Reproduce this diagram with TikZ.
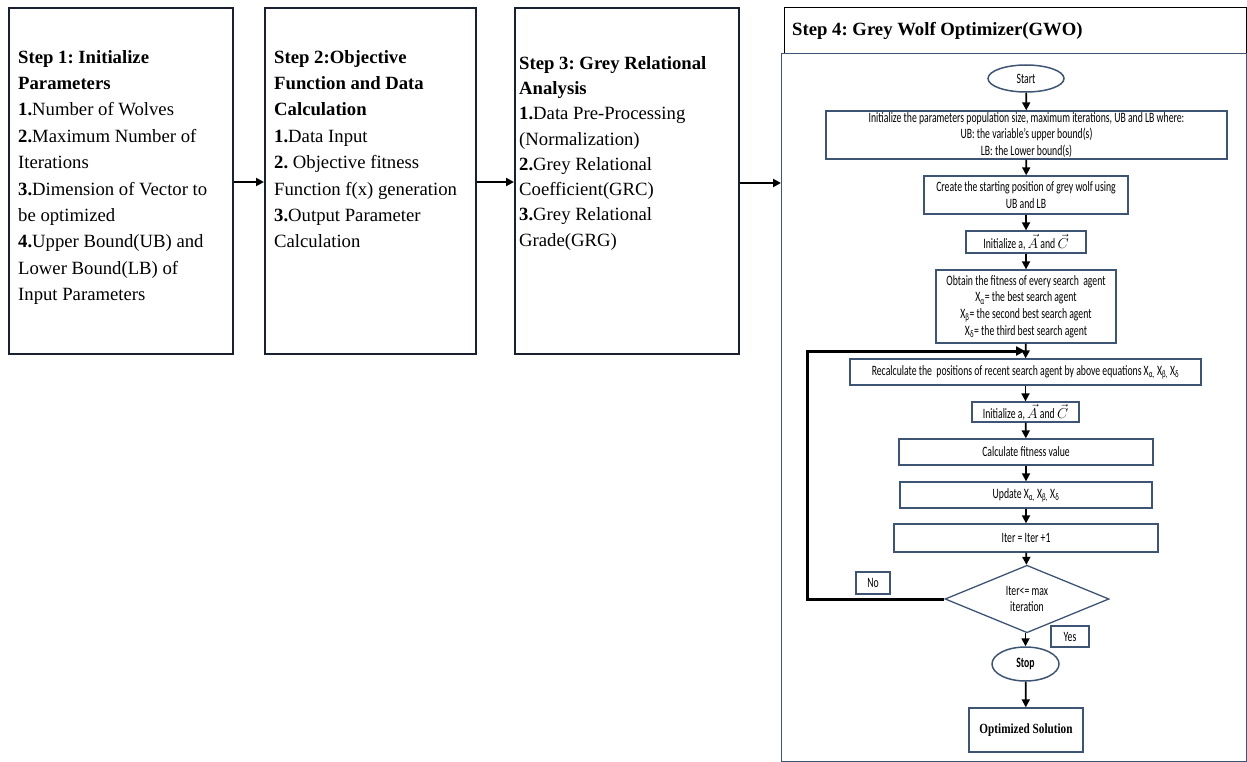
\documentclass[tikz,border=0pt]{standalone}
\usepackage{fontspec}
\setmainfont{Liberation Serif}
\newfontfamily\fc[FakeStretch=0.68]{Carlito}
\newfontfamily\fcs[FakeStretch=0.8]{Liberation Serif}
\usetikzlibrary{shapes.geometric,arrows.meta}
\definecolor{fbord}{RGB}{62,84,116}
\definecolor{sbord}{RGB}{25,32,50}
\tikzset{
  stepbox/.style={draw=sbord,line width=1.6pt,anchor=north west,inner sep=0pt},
  steptext/.style={anchor=north west,align=left,inner sep=0pt,font=\frenchspacing\fontsize{18.7}{26.4}\selectfont},
  bigarrow/.style={draw=black,line width=2.3pt,-{Triangle[length=8pt,width=8pt]}},
  fbox/.style={draw=fbord,line width=1.3pt,inner sep=0pt,align=center,font=\fc\fontsize{14.3}{16.7}\selectfont},
  flowarrow/.style={draw=black,line width=1.7pt,-{Triangle[length=8pt,width=8pt]}},
  looparrow/.style={draw=black,line width=3pt,-{Triangle[length=9pt,width=9pt]}},
}
\begin{document}
\begin{tikzpicture}[x=1pt,y=-1pt]
\useasboundingbox (0,0) rectangle (1247,762);
% step boxes
\node[stepbox,minimum width=224pt,minimum height=346pt] (s1) at (8,7) {};
\node[stepbox,minimum width=211pt,minimum height=346pt] (s2) at (264,7) {};
\node[stepbox,minimum width=224pt,minimum height=346pt] (s3) at (514,7) {};
\node[steptext] (t1) at (18,50) {\textbf{Step 1: Initialize}\\\textbf{Parameters}\\\textbf{1.}Number of Wolves\\\textbf{2.}Maximum Number of\\Iterations\\\textbf{3.}Dimension of Vector to\\be optimized\\\textbf{4.}Upper Bound(UB) and\\Lower Bound(LB) of\\Input Parameters};
\node[steptext] (t2) at (274,50) {\textbf{Step 2:Objective}\\\textbf{Function and Data}\\\textbf{Calculation}\\\textbf{1.}Data Input\\\textbf{2.} Objective fitness\\Function f(x) generation\\\textbf{3.}Output Parameter\\Calculation};
\node[steptext,font=\frenchspacing\fontsize{18.7}{25.3}\selectfont] (t3) at (519,56) {\textbf{Step 3: Grey Relational}\\\textbf{Analysis}\\\textbf{1.}Data Pre-Processing\\(Normalization)\\\textbf{2.}Grey Relational\\Coefficient(GRC)\\\textbf{3.}Grey Relational\\Grade(GRG)};
% step 4 frame
\node[draw=black,line width=1.3pt,anchor=north west,minimum width=462pt,minimum height=46pt,inner sep=0pt] (hdr) at (784,7) {};
\node[anchor=west,inner sep=0pt,font=\frenchspacing\fontsize{18.7}{22}\selectfont\bfseries] (hdrt) at (792,31) {Step 4: Grey Wolf Optimizer(GWO)};
\node[draw=fbord,line width=1.3pt,anchor=north west,minimum width=465pt,minimum height=708pt,inner sep=0pt] (frame) at (781,53) {};
% arrows between steps
\draw[bigarrow] (s1.east |- 0,182) -- (s2.west |- 0,182);
\draw[bigarrow] (s2.east |- 0,182) -- (s3.west |- 0,182);
\draw[bigarrow] (s3.east |- 0,183) -- (frame.west |- 0,183);
% flowchart
\node[ellipse,draw=fbord,line width=1.5pt,minimum width=76pt,minimum height=27pt,inner sep=0pt,font=\fc\fontsize{14.3}{15}\selectfont] (start) at (1026,78.5) {Start};
\node[fbox,minimum width=401pt,minimum height=48pt] (init) at (1026.5,135) {Initialize the parameters population size, maximum iterations, UB and LB where:\\UB: the variable’s upper bound(s)\\LB: the Lower bound(s)};
\node[fbox,minimum width=204pt,minimum height=38pt] (create) at (1026,195) {Create the starting position of grey wolf using\\UB and LB};
\node[fbox,minimum width=120pt,minimum height=22pt] (inita) at (1026,242) {Initialize a, $\vec{A}$ and $\vec{C}$};
\node[fbox,minimum width=180pt,minimum height=73pt] (obtain) at (1026,306.5) {Obtain the fitness of every search\ \ agent\\X\textsubscript{α}= the best search agent\\X\textsubscript{β}= the second best search agent\\X\textsubscript{δ}= the third best search agent};
\node[fbox,minimum width=351pt,minimum height=26pt] (recalc) at (1025.5,372) {Recalculate the\ \ positions of recent search agent by above equations X\textsubscript{α,} X\textsubscript{β,} X\textsubscript{δ}};
\node[fbox,minimum width=107pt,minimum height=20pt] (initb) at (1025.5,412) {Initialize a, $\vec{A}$ and $\vec{C}$};
\node[fbox,minimum width=254pt,minimum height=26pt] (calc) at (1026,452) {Calculate fitness value};
\node[fbox,minimum width=252pt,minimum height=26pt] (update) at (1026,495) {Update X\textsubscript{α,} X\textsubscript{β,} X\textsubscript{δ}};
\node[fbox,minimum width=264pt,minimum height=28pt] (iter) at (1026,538) {Iter = Iter +1};
\node[diamond,draw=fbord,line width=1.3pt,minimum width=164pt,minimum height=62pt,inner sep=0pt,align=center,font=\fc\fontsize{14.3}{16}\selectfont] (dia) at (1027,599) {Iter<= max\\iteration};
\node[fbox,minimum width=34pt,minimum height=22pt] (no) at (873,583) {No};
\node[fbox,minimum width=38pt,minimum height=21pt] (yes) at (1070,636.5) {Yes};
\node[ellipse,draw=fbord,line width=1.5pt,minimum width=67pt,minimum height=34pt,inner sep=0pt,font=\fc\fontsize{14.3}{15}\selectfont\bfseries] (stop) at (1025.5,664) {Stop};
\node[fbox,minimum width=114pt,minimum height=44pt,font=\fcs\fontsize{14}{15}\selectfont\bfseries] (opt) at (1026,730) {Optimized Solution};
% flow arrows
\draw[flowarrow] (start) -- (init);
\draw[flowarrow] (init) -- (create);
\draw[flowarrow] (create) -- (inita);
\draw[flowarrow] (inita) -- (obtain);
\draw[flowarrow] (obtain) -- (recalc);
\draw[flowarrow] (recalc) -- (initb);
\draw[flowarrow] (initb) -- (calc);
\draw[flowarrow] (calc) -- (update);
\draw[flowarrow] (update) -- (iter);
\draw[flowarrow] (iter) -- (dia);
\draw[flowarrow] (dia.south -| stop) -- (stop);
\draw[flowarrow] (stop) -- (opt);
\coordinate (lc) at (807,351);
\coordinate (lj) at (1025,351);
\draw[looparrow] (dia.west) -| (lc) -- (lj);
\end{tikzpicture}
\end{document}
